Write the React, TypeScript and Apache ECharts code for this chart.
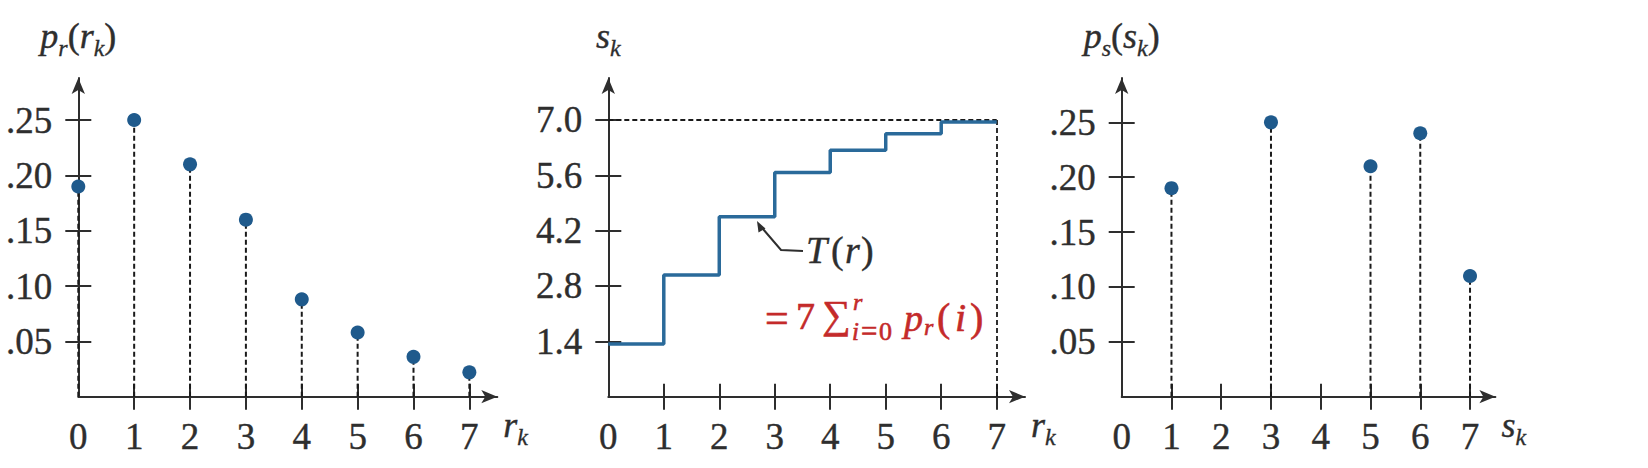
import React, { useEffect, useRef } from "react";
import * as echarts from "echarts";

// ---------- data ----------
const rLevels = [0, 1, 2, 3, 4, 5, 6, 7];
const prValues = [0.19, 0.25, 0.21, 0.16, 0.088, 0.058, 0.036, 0.022];
const probTicks = [0.05, 0.1, 0.15, 0.2, 0.25];
const sTicks = [1.4, 2.8, 4.2, 5.6, 7.0];
const skValues = [1.33, 3.08, 4.55, 5.67, 6.23, 6.65, 6.95];
const sMax = 7.0;
const sLevels = [1, 3, 5, 6, 7];
const psValues = [0.19, 0.25, 0.21, 0.24, 0.11];
const xTickLabels = [0, 1, 2, 3, 4, 5, 6, 7];

// ---------- styles ----------
const AXIS = "#2e2e2e";
const BLUE = "#1f5a8c";
const LINEBLUE = "#2a6a9a";
const RED = "#c42a2a";
const SERIF = "'Liberation Serif', 'Times New Roman', 'DejaVu Serif', serif";
const LABEL_SIZE = 37;

const richName = {
  i: { fontFamily: SERIF, fontStyle: "italic", fontSize: 36, color: AXIS, lineHeight: 40, textBorderColor: AXIS, textBorderWidth: 0.4 },
  n: { fontFamily: SERIF, fontSize: 36, color: AXIS, lineHeight: 40, textBorderColor: AXIS, textBorderWidth: 0.4 },
  s: {
    fontFamily: SERIF,
    fontStyle: "italic",
    fontSize: 24,
    color: AXIS,
    lineHeight: 24,
    verticalAlign: "bottom",
    padding: [0, 0, -4, 0],
    textBorderColor: AXIS,
    textBorderWidth: 0.3,
  },
};

const grids = [
  { left: 78.3, top: 78, width: 419, height: 318.7 },
  { left: 608.3, top: 78, width: 416.7, height: 318.7 },
  { left: 1121.7, top: 78, width: 373.7, height: 318.7 },
];
const xMaxes = [7.5, 7.51, 7.51];
const yMaxes = [0.288, 8.06, 0.2904];
const yTickSets = [probTicks, sTicks, probTicks];
const xTickSets = [
  rLevels.filter((v) => v > 0),
  rLevels.filter((v) => v > 0),
  rLevels.filter((v) => v > 0),
];
const xNames = ["{i|r}{s|k}", "{i|r}{s|k}", "{i|s}{s|k}"];
const yNames = [
  "{i|p}{s|r}{n|(}{i|r}{s|k}{n|)}",
  "{i|s}{s|k}",
  "{i|p}{s|s}{n|(}{i|s}{s|k}{n|)}",
];
const yFormat = [
  (v: number) => v.toFixed(2).replace(/^0/, ""),
  (v: number) => v.toFixed(1),
  (v: number) => v.toFixed(2).replace(/^0/, ""),
];

function stemSeries(idx: number, data: number[][]) {
  return {
    type: "custom",
    xAxisIndex: idx,
    yAxisIndex: idx,
    data,
    z: 2,
    renderItem: (params: any, api: any) => {
      const top = api.coord([api.value(0), api.value(1)]);
      const base = api.coord([api.value(0), 0]);
      return {
        type: "line",
        shape: { x1: base[0], y1: base[1], x2: top[0], y2: top[1] },
        style: { stroke: "#1a1a1a", lineWidth: 2, lineDash: [5, 3] },
      };
    },
  };
}

function dotSeries(idx: number, data: number[][]) {
  return {
    type: "scatter",
    xAxisIndex: idx,
    yAxisIndex: idx,
    data,
    symbolSize: 14,
    itemStyle: { color: BLUE, opacity: 1 },
    z: 5,
  };
}

const labelStyle = {
  fontFamily: SERIF,
  fontSize: LABEL_SIZE,
  color: AXIS,
  textBorderColor: AXIS,
  textBorderWidth: 0.4,
};

export default function App() {
  const ref = useRef<HTMLDivElement>(null);

  useEffect(() => {
    if (!ref.current) return;
    const chart = echarts.init(ref.current, undefined, { renderer: "svg" });

    const xAxes: any[] = [];
    const yAxes: any[] = [];
    for (let i = 0; i < 3; i++) {
      xAxes.push({
        type: "value",
        gridIndex: i,
        position: "bottom",
        min: 0,
        max: xMaxes[i],
        splitLine: { show: false },
        axisLine: {
          show: true,
          onZero: false,
          symbol: ["none", "arrow"],
          symbolSize: [10, 16],
          lineStyle: { color: AXIS, width: 2 },
        },
        axisTick: { show: true, length: 13, customValues: xTickSets[i], lineStyle: { color: AXIS, width: 2 } },
        axisLabel: {
          ...labelStyle,
          customValues: xTickLabels,
          margin: 21,
          formatter: (v: number) => String(v),
        },
        name: xNames[i],
        nameLocation: "end",
        nameGap: 6,
        nameTextStyle: { align: "left", verticalAlign: "middle", padding: [56, 0, 0, 0], rich: richName },
      });
      yAxes.push({
        type: "value",
        gridIndex: i,
        position: "left",
        min: 0,
        max: yMaxes[i],
        splitLine: { show: false },
        axisLine: {
          show: true,
          onZero: false,
          symbol: ["none", "arrow"],
          symbolSize: [10, 16],
          lineStyle: { color: AXIS, width: 2 },
        },
        axisTick: { show: true, length: 13, customValues: yTickSets[i], lineStyle: { color: AXIS, width: 2 } },
        axisLabel: {
          ...labelStyle,
          customValues: yTickSets[i],
          margin: 26,
          formatter: yFormat[i],
        },
        name: yNames[i],
        nameLocation: "end",
        nameGap: 22,
        nameTextStyle: { align: "center", verticalAlign: "bottom", rich: richName },
      });
    }
    // inner halves of the crossing ticks
    for (let i = 0; i < 3; i++) {
      xAxes.push({
        type: "value",
        gridIndex: i,
        position: "bottom",
        min: 0,
        max: xMaxes[i],
        splitLine: { show: false },
        axisLine: { show: false, onZero: false },
        axisLabel: { show: false },
        axisTick: { show: true, inside: true, length: 13, customValues: xTickSets[i], lineStyle: { color: AXIS, width: 2 } },
      });
      yAxes.push({
        type: "value",
        gridIndex: i,
        position: "left",
        min: 0,
        max: yMaxes[i],
        splitLine: { show: false },
        axisLine: { show: false, onZero: false },
        axisLabel: { show: false },
        axisTick: { show: true, inside: true, length: 13, customValues: yTickSets[i], lineStyle: { color: AXIS, width: 2 } },
      });
    }

    const pr = rLevels.map((r, k) => [r, prValues[k]]);
    const ps = sLevels.map((s, k) => [s, psValues[k]]);
    const stepData = skValues.map((s, k) => [rLevels[k], s]);
    stepData.push([rLevels[rLevels.length - 1], skValues[skValues.length - 1]]);

    const txt = (x: number, y: number, text: string, size: number, italic: boolean, color: string, weight = 0.6) => ({
      type: "text",
      x,
      y,
      z: 20,
      style: {
        text,
        fontFamily: SERIF,
        fontSize: size,
        fontStyle: italic ? "italic" : "normal",
        fill: color,
        stroke: color,
        lineWidth: weight,
        verticalAlign: "middle",
        align: "left",
      },
    });

    chart.setOption({
      animation: false,
      backgroundColor: "#ffffff",
      grid: grids.map((g) => ({ ...g, containLabel: false, outerBoundsMode: "none" })),
      xAxis: xAxes,
      yAxis: yAxes,
      series: [
        stemSeries(0, pr),
        dotSeries(0, pr),
        {
          type: "line",
          xAxisIndex: 1,
          yAxisIndex: 1,
          data: stepData,
          step: "end",
          showSymbol: false,
          symbol: "none",
          lineStyle: { color: LINEBLUE, width: 3.5 },
          z: 5,
          markLine: {
            silent: true,
            symbol: ["none", "none"],
            label: { show: false },
            lineStyle: { type: [5, 3], color: "#1a1a1a", width: 1.8 },
            data: [
              [{ coord: [0, sMax] }, { coord: [rLevels[7], sMax] }],
              [{ coord: [rLevels[7], sMax] }, { coord: [rLevels[7], 0] }],
            ],
          },
        },
        stemSeries(2, ps),
        dotSeries(2, ps),
      ],
      graphic: [
        {
          type: "polyline",
          z: 20,
          shape: { points: [[803, 251], [781, 250], [763, 229]] },
          style: { stroke: AXIS, lineWidth: 2, fill: null },
        },
        {
          type: "polygon",
          z: 20,
          shape: { points: [[757, 221], [765.5, 228.5], [758.5, 232.5]] },
          style: { fill: AXIS },
        },
        txt(806, 250, "T", 38, true, AXIS, 0.4),
        txt(831, 250, "(", 38, false, AXIS, 0.4),
        txt(845, 250, "r", 38, true, AXIS, 0.4),
        txt(861, 250, ")", 38, false, AXIS, 0.4),
        txt(765, 318, "=", 42, false, RED),
        txt(796, 316, "7", 38, false, RED),
        txt(822, 314, "∑", 40, false, RED),
        txt(853, 302, "r", 24, true, RED),
        txt(852, 331, "i", 25, true, RED),
        txt(861, 331, "=", 29, false, RED),
        txt(879, 331, "0", 26, false, RED),
        txt(904, 318, "p", 38, true, RED),
        txt(924, 327, "r", 24, true, RED),
        txt(937, 317, "(", 40, false, RED),
        txt(955, 317, "i", 40, true, RED),
        txt(970, 317, ")", 40, false, RED),
      ],
    });

    return () => {
      chart.dispose();
    };
  }, []);

  return (
    <div
      ref={ref}
      style={{ position: "absolute", left: 0, top: 0, width: 1648, height: 468, background: "#fff" }}
    />
  );
}
